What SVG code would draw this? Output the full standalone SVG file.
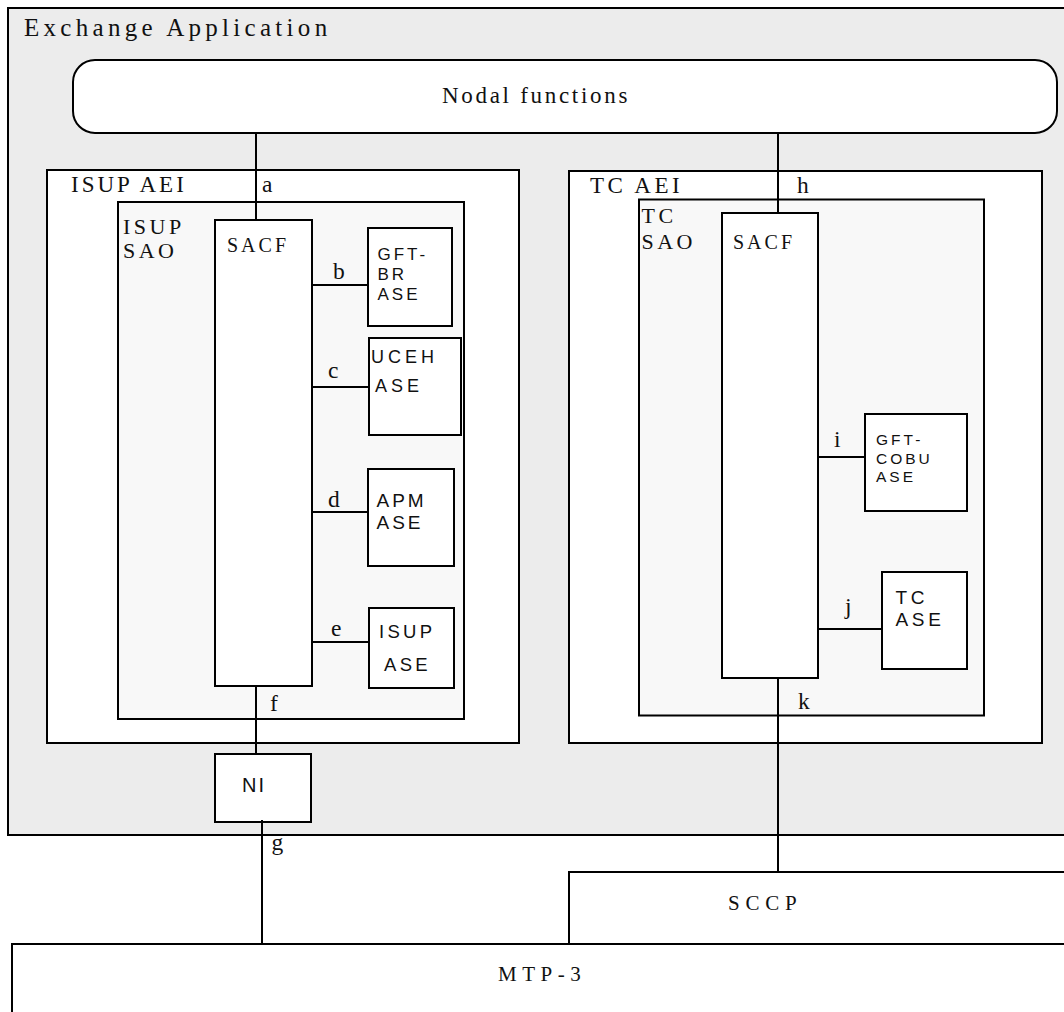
<svg xmlns="http://www.w3.org/2000/svg" width="1064" height="1012" viewBox="0 0 1064 1012">
<style>
.box{stroke:#000;stroke-width:2;fill:#fff}
.ser{font-family:"Liberation Serif","Times New Roman",serif;fill:#111}
.sans{font-family:"Liberation Sans",Arial,sans-serif;fill:#111}
.lbl{font-family:"Liberation Serif","Times New Roman",serif;font-size:23.5px;fill:#111}
.con{stroke:#000;stroke-width:2;fill:none}
</style>
<rect width="1064" height="1012" fill="#fff"/>
<g id="exchange-application">
<rect class="box" x="8" y="8" width="1070" height="827" style="fill:#ececec"/>
<text class="ser" x="24" y="36" font-size="25" letter-spacing="4.3">Exchange Application</text>
</g>
<g id="nodal-functions">
<rect class="box" x="73" y="60" width="984" height="73" rx="22"/>
<text class="ser" x="442" y="103" font-size="23" letter-spacing="2.7">Nodal functions</text>
</g>
<g id="isup-aei">
<rect class="box" x="47" y="170" width="472" height="573"/>
<text class="ser" x="71" y="192" font-size="23" letter-spacing="3">ISUP AEI</text>
</g>
<g id="isup-sao">
<rect class="box" x="118" y="202" width="346" height="517" style="fill:#f8f8f8"/>
<text class="ser" font-size="22" letter-spacing="3.5"><tspan x="123" y="234">ISUP</tspan><tspan x="123" y="257.5">SAO</tspan></text>
</g>
<g id="isup-sacf">
<rect class="box" x="215" y="220" width="97" height="466"/>
<text class="ser" x="227" y="251.5" font-size="20" letter-spacing="3">SACF</text>
</g>
<g id="gft-br-ase">
<rect class="box" x="368" y="228" width="84" height="98"/>
<text class="sans" font-size="17" letter-spacing="3"><tspan x="377.5" y="260">GFT-</tspan><tspan x="377.5" y="280">BR</tspan><tspan x="377.5" y="300">ASE</tspan></text>
</g>
<g id="uceh-ase">
<rect class="box" x="369" y="338" width="92" height="97"/>
<text class="sans" font-size="18" letter-spacing="4"><tspan x="371" y="362.5">UCEH</tspan><tspan x="375" y="392">ASE</tspan></text>
</g>
<g id="apm-ase">
<rect class="box" x="368" y="469" width="86" height="97"/>
<text class="sans" font-size="19" letter-spacing="3"><tspan x="376.5" y="506.5">APM</tspan><tspan x="376.5" y="529">ASE</tspan></text>
</g>
<g id="isup-ase">
<rect class="box" x="369" y="608" width="85" height="80"/>
<text class="sans" font-size="18.5" letter-spacing="3.3"><tspan x="379" y="637.5">ISUP</tspan><tspan x="384" y="671">ASE</tspan></text>
</g>
<g id="tc-aei">
<rect class="box" x="569" y="171" width="473" height="572"/>
<text class="ser" x="590" y="193" font-size="23" letter-spacing="3.5">TC AEI</text>
</g>
<g id="tc-sao">
<rect class="box" x="639" y="199.5" width="345" height="516" style="fill:#f8f8f8"/>
<text class="ser" font-size="22" letter-spacing="3.5"><tspan x="641.5" y="222.5">TC</tspan><tspan x="641.5" y="249">SAO</tspan></text>
</g>
<g id="tc-sacf">
<rect class="box" x="722" y="213" width="96" height="465"/>
<text class="ser" x="733" y="249" font-size="20" letter-spacing="3">SACF</text>
</g>
<g id="gft-cobu-ase">
<rect class="box" x="865" y="414" width="102" height="97"/>
<text class="sans" font-size="15.5" letter-spacing="3"><tspan x="876" y="445">GFT-</tspan><tspan x="876" y="464">COBU</tspan><tspan x="876" y="481.5">ASE</tspan></text>
</g>
<g id="tc-ase">
<rect class="box" x="882" y="572" width="85" height="97"/>
<text class="sans" font-size="19" letter-spacing="3.7"><tspan x="895.5" y="604">TC</tspan><tspan x="895.5" y="625.5">ASE</tspan></text>
</g>
<g id="ni">
<rect class="box" x="215" y="754" width="96" height="68" stroke-width="2.5"/>
<text class="sans" x="242" y="791.5" font-size="20" letter-spacing="2">NI</text>
</g>
<g id="sccp">
<rect class="box" x="569" y="872" width="520" height="72"/>
<text class="ser" x="728" y="910" font-size="21" letter-spacing="5.8">SCCP</text>
</g>
<g id="mtp-3">
<rect class="box" x="12" y="944" width="1070" height="100"/>
<text class="ser" x="498" y="981" font-size="21" letter-spacing="5.5">MTP-3</text>
</g>
<g id="connectors">
<line class="con" x1="256" y1="133" x2="256" y2="220"/>
<line class="con" x1="312" y1="285" x2="368" y2="285"/>
<line class="con" x1="312" y1="387" x2="369" y2="387"/>
<line class="con" x1="312" y1="512" x2="368" y2="512"/>
<line class="con" x1="312" y1="642" x2="369" y2="642"/>
<line class="con" x1="256" y1="686" x2="256" y2="754"/>
<line class="con" x1="262" y1="820" x2="262" y2="944"/>
<line class="con" x1="778" y1="133" x2="778" y2="213"/>
<line class="con" x1="818" y1="457" x2="865" y2="457"/>
<line class="con" x1="818" y1="629" x2="882" y2="629"/>
<line class="con" x1="778" y1="678" x2="778" y2="872"/>
<text class="lbl" x="262" y="192">a</text>
<text class="lbl" x="333" y="279">b</text>
<text class="lbl" x="328" y="378">c</text>
<text class="lbl" x="328" y="506.5">d</text>
<text class="lbl" x="331" y="636">e</text>
<text class="lbl" x="270" y="711">f</text>
<text class="lbl" x="271.5" y="850">g</text>
<text class="lbl" x="797" y="193">h</text>
<text class="lbl" x="834" y="447">i</text>
<text class="lbl" x="845" y="614">j</text>
<text class="lbl" x="798" y="709">k</text>
</g>
</svg>
